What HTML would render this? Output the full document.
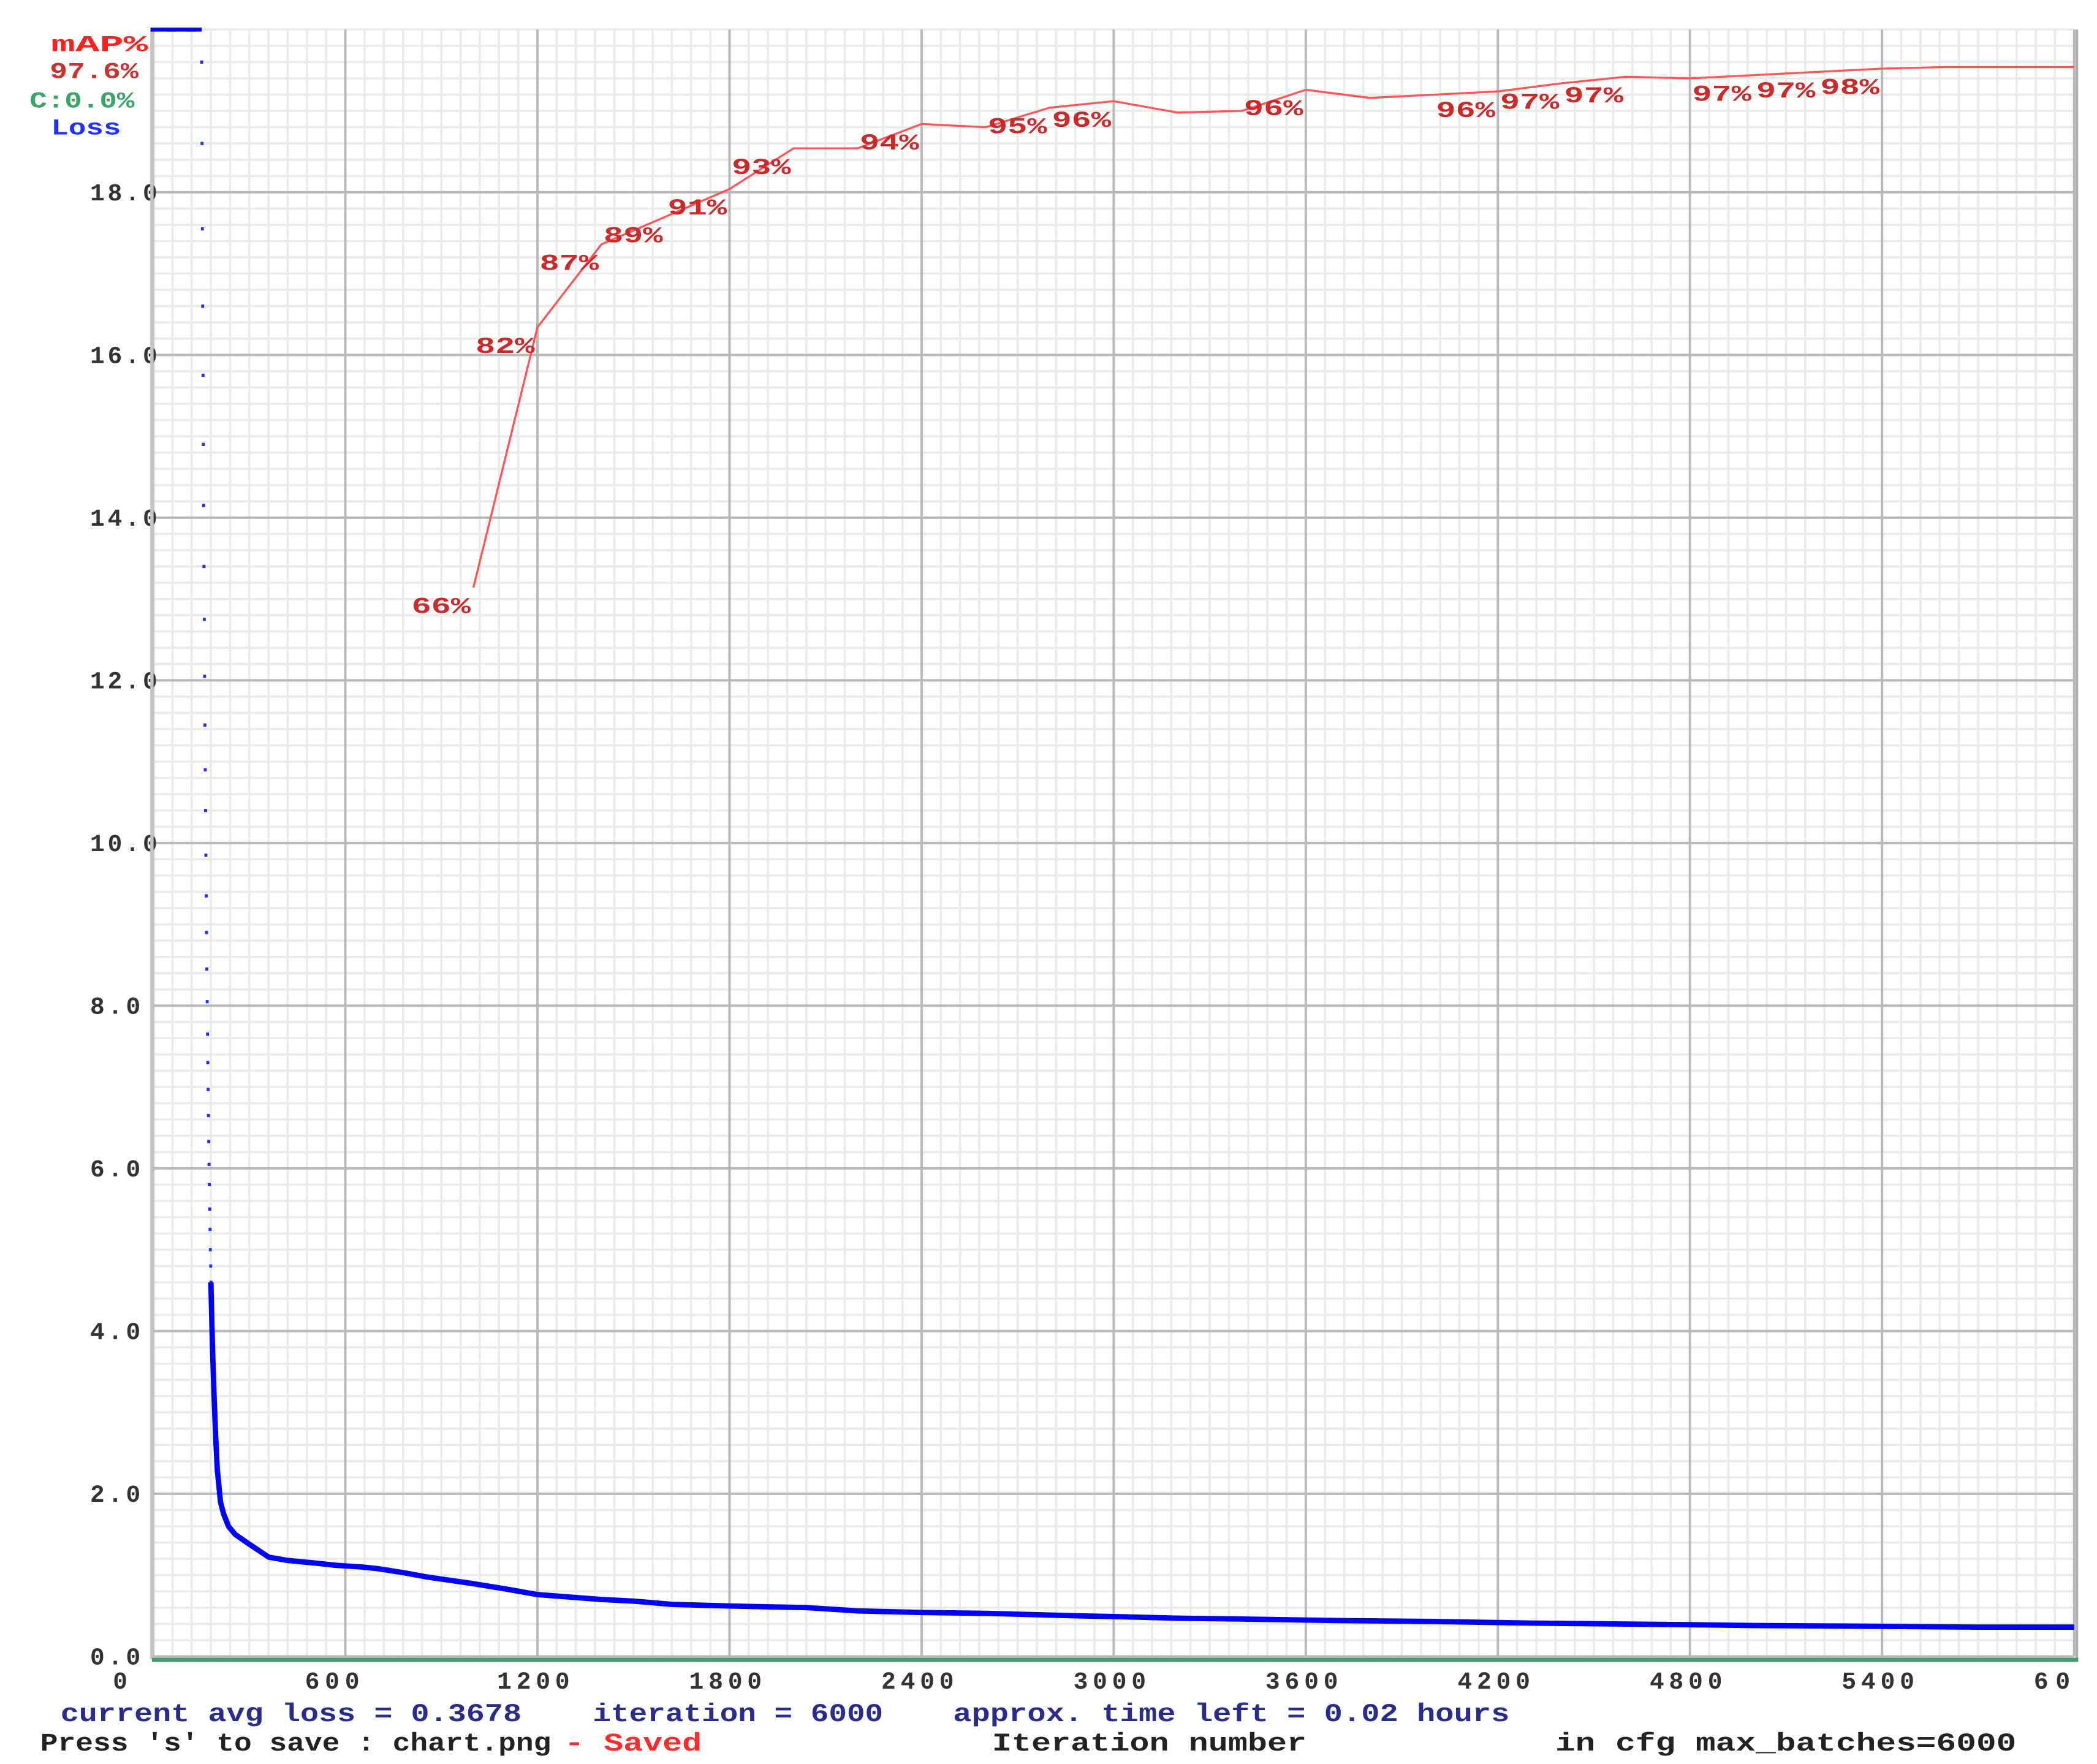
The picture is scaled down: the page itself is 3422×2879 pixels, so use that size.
<!DOCTYPE html>
<html><head><meta charset="utf-8"><style>
html,body{margin:0;padding:0;background:#fff;}
svg{display:block;}
text{font-family:"Liberation Mono","DejaVu Sans Mono",monospace;font-weight:bold;}
</style></head><body>
<svg id="chart" xmlns="http://www.w3.org/2000/svg" width="3422" height="2879" viewBox="0 0 1560 1312" preserveAspectRatio="none">
<rect x="0" y="0" width="1560" height="1312" fill="#fff"/>
<g id="grid"></g>
<g id="axes"></g>
<g id="series"></g>
<g>
<text x="38" y="38" font-size="17" fill="#ff2020" textLength="72" lengthAdjust="spacingAndGlyphs">mAP%</text>
<text x="37" y="58" font-size="17" fill="#c83232" textLength="66" lengthAdjust="spacingAndGlyphs">97.6%</text>
<text x="22" y="80" font-size="17" fill="#3aa36a" textLength="78" lengthAdjust="spacingAndGlyphs">C:0.0%</text>
<text x="38" y="100" font-size="17" fill="#2030ff" textLength="52" lengthAdjust="spacingAndGlyphs">Loss</text>
</g>
<g>
<text x="45" y="1280" font-size="19" fill="#2b2b8c" textLength="343" lengthAdjust="spacingAndGlyphs">current avg loss = 0.3678</text>
<text x="441" y="1280" font-size="19" fill="#2b2b8c" textLength="216" lengthAdjust="spacingAndGlyphs">iteration = 6000</text>
<text x="709" y="1280" font-size="19" fill="#2b2b8c" textLength="414" lengthAdjust="spacingAndGlyphs">approx. time left = 0.02 hours</text>
<text x="30" y="1302" font-size="19" fill="#222" textLength="380" lengthAdjust="spacingAndGlyphs">Press 's' to save : chart.png</text>
<text x="420" y="1302" font-size="19" fill="#ff2a2a" textLength="102" lengthAdjust="spacingAndGlyphs">- Saved</text>
<text x="738" y="1302" font-size="19" fill="#222" textLength="234" lengthAdjust="spacingAndGlyphs">Iteration number</text>
<text x="1157" y="1302" font-size="19" fill="#222" textLength="343" lengthAdjust="spacingAndGlyphs">in cfg max_batches=6000</text>
</g>
</svg>
<script>
const xTicks = [0,600,1200,1800,2400,3000,3600,4200,4800,5400,6000];
const xTickLabels = ["0","600","1200","1800","2400","3000","3600","4200","4800","5400","60"];
const yTicks = [0,2,4,6,8,10,12,14,16,18];
const yTickLabels = ["0.0","2.0","4.0","6.0","8.0","10.0","12.0","14.0","16.0","18.0"];
const lossDotIters = [151,152,153,154,155,156,157,158,159,160,161,162,163,164,165,166,167,168,169,170,171,172,173,174,175,176,177,178,179,180];
const lossDotValues = [19.6,18.6,17.55,16.6,15.75,14.9,14.15,13.4,12.75,12.05,11.45,10.9,10.4,9.85,9.35,8.9,8.45,8.05,7.65,7.3,6.97,6.65,6.33,6.05,5.8,5.5,5.25,5.0,4.8,4.6];
const lossIters = [180,185,190,195,200,210,220,235,256,300,361,420,500,571,650,700,781,850,920,991,1100,1201,1300,1400,1500,1621,1800,2041,2200,2400,2600,2881,3000,3200,3400,3721,4000,4300,4561,4800,5000,5401,5700,6000];
const lossValues = [4.6,3.8,3.2,2.7,2.3,1.9,1.75,1.6,1.5,1.38,1.22,1.18,1.15,1.12,1.1,1.08,1.03,0.98,0.94,0.9,0.83,0.76,0.73,0.7,0.68,0.64,0.62,0.6,0.56,0.54,0.53,0.5,0.49,0.47,0.46,0.44,0.43,0.41,0.4,0.39,0.38,0.37,0.36,0.36];
const mapIters = [1000,1200,1400,1600,1800,2000,2200,2400,2600,2800,3000,3200,3400,3600,3800,4000,4200,4400,4600,4800,5000,5200,5400,5600,5800,6000];
const mapValues = [65.7,81.7,86.8,88.5,90.2,92.7,92.7,94.2,94.0,95.2,95.6,94.9,95.0,96.3,95.8,96.0,96.2,96.7,97.1,97.0,97.2,97.4,97.6,97.7,97.7,97.7];
const mapLabels = ["66%","82%","87%","89%","91%","93%","","94%","","95%","96%","","","96%","","","96%","97%","97%","","97%","97%","98%","","",""];

const NS = "http://www.w3.org/2000/svg";
const L = 114, R = 1543, T = 22, B = 1232;
const xS = v => L + v / 6000 * (R - L);
const yS = v => B - v / 20 * (B - T);
const yM = p => T + (1 - p / 100) * (B - T);
function mk(tag, attrs, parent){const e=document.createElementNS(NS,tag);for(const k in attrs)e.setAttribute(k,attrs[k]);parent.appendChild(e);return e;}
const grid = document.getElementById('grid'), axes = document.getElementById('axes'), series = document.getElementById('series');
// minor grid
for(let i=0;i<=100;i++){const x=xS(i*60);const l=mk('line',{x1:x,x2:x,y1:T,y2:B,stroke:'#ebebeb','stroke-width':1.6},grid);

}
for(let i=0;i<=100;i++){const y=yS(i*0.2);const l=mk('line',{x1:L-1,x2:R,y1:y,y2:y,stroke:'#ebebeb','stroke-width':1.6},grid);

}
xTicks.forEach((t,i)=>{const x=xS(t);const l=mk('line',{x1:x,x2:x,y1:T,y2:B,stroke:'#b8b8b8','stroke-width':1.8},grid);


const tx=mk('text',{x:x-30,y:1256,'font-size':18,fill:'#333'},axes);tx.textContent=xTickLabels[i];
tx.setAttribute('textLength', xTickLabels[i].length*13.5);

});
yTicks.forEach((t,i)=>{const y=yS(t);const l=mk('line',{x1:L-1,x2:R,y1:y,y2:y,stroke:'#b8b8b8','stroke-width':1.8},grid);


const tx=mk('text',{x:67,y:y+6,'font-size':18,fill:'#333'},axes);tx.textContent=yTickLabels[i];
tx.setAttribute('textLength', yTickLabels[i].length*12.5);

});
let a=mk('line',{x1:113,x2:113,y1:T,y2:B+2,stroke:'#c4c4c4','stroke-width':2.5},axes);


a=mk('line',{x1:R+2,x2:R+2,y1:T,y2:B+2,stroke:'#b0b0b0','stroke-width':2},axes);


a=mk('line',{x1:113,x2:R+3,y1:B+2.5,y2:B+2.5,stroke:'#459a6c','stroke-width':3},axes);


// clipped loss bar at top
a=mk('line',{x1:112,x2:150,y1:T,y2:T,stroke:'#0000ff','stroke-width':3},series);


// loss dots
lossDotIters.forEach((it,i)=>{const d=mk('rect',{x:xS(it)-1,y:yS(lossDotValues[i])-1.2,width:2.2,height:2.4,fill:'#2a2aff'},series);

});
// loss line
const lp=mk('polyline',{points:lossIters.map((it,i)=>xS(it)+','+yS(lossValues[i])).join(' '),fill:'none',stroke:'#0000ff','stroke-width':4,'stroke-linejoin':'round'},series);


// mAP line
const mp=mk('polyline',{points:mapIters.map((it,i)=>xS(it)+','+yM(mapValues[i])).join(' '),fill:'none',stroke:'#ff5555','stroke-width':1.5},series);


mapIters.forEach((it,i)=>{if(!mapLabels[i])return;const t=mk('text',{x:xS(it)-46,y:yM(mapValues[i])+19,'font-size':17,fill:'#cc2a2a',textLength:44,lengthAdjust:'spacingAndGlyphs'},series);
t.textContent=mapLabels[i];

});
</script>
</body></html>
